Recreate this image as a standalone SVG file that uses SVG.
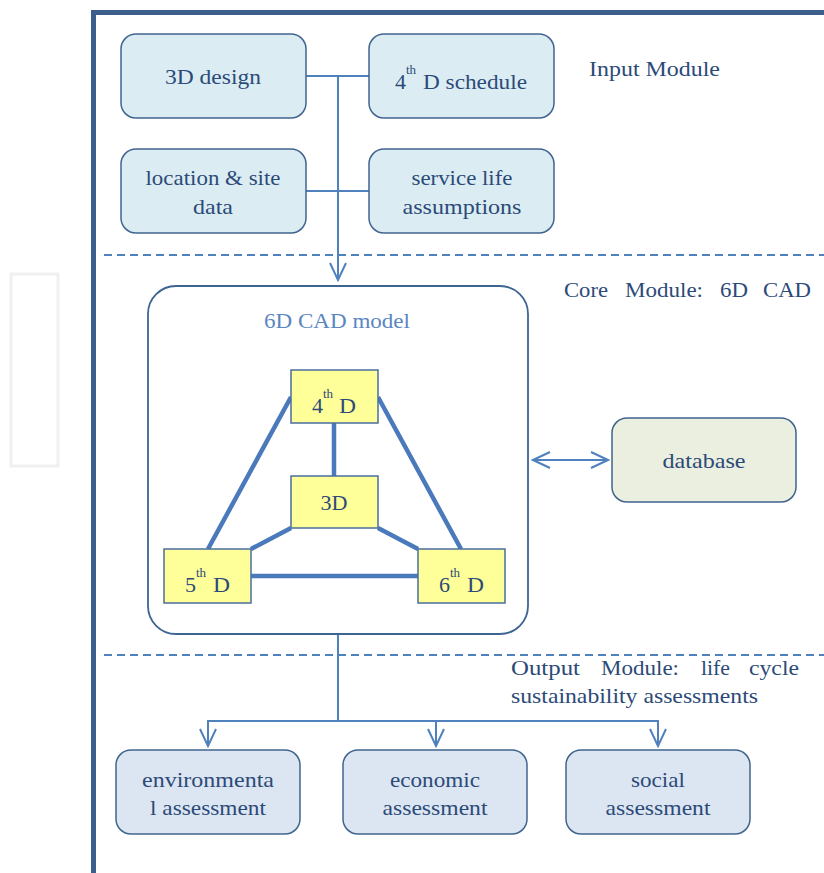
<svg xmlns="http://www.w3.org/2000/svg" width="824" height="873" viewBox="0 0 824 873">
<style>
  text { font-family: "Liberation Serif", "Times New Roman", serif; fill: #2c4a78; font-size: 22px; }
  .c { text-anchor: middle; }
  .sup { font-size: 13px; }
  .inbox { fill: #dbedf3; stroke: #41648f; stroke-width: 1.5; }
  .outbox { fill: #dce6f2; stroke: #41648f; stroke-width: 1.5; }
  .ybox { fill: #ffff99; stroke: #4a6e9e; stroke-width: 1.5; }
  .conn { fill: none; stroke: #4f81bd; stroke-width: 2; }
  .tri { fill: none; stroke: #4a7abb; stroke-width: 4.5; }
  .dash { fill: none; stroke: #4f81bd; stroke-width: 1.8; stroke-dasharray: 8 5; }
</style>
<defs>
  <marker id="arr" viewBox="0 0 20 20" refX="18" refY="10" markerWidth="20" markerHeight="20" markerUnits="userSpaceOnUse" orient="auto-start-reverse">
    <path d="M1,2 L18,10 L1,18" fill="none" stroke="#4f81bd" stroke-width="2"/>
  </marker>
</defs>
<rect width="824" height="873" fill="#ffffff"/>
<rect x="11" y="274" width="47" height="192" fill="none" stroke="#f0f0f0" stroke-width="3"/>
<g id="frame">
  <path d="M93.5,873 V12.5 H824" fill="none" stroke="#3b5e8c" stroke-width="5"/>
  <line x1="104" y1="255" x2="824" y2="255" class="dash"/>
  <line x1="104" y1="655" x2="824" y2="655" class="dash"/>
</g>
<g id="labels">
  <text x="589" y="76" textLength="131" lengthAdjust="spacingAndGlyphs">Input Module</text>
  <text x="564" y="297" textLength="44" lengthAdjust="spacingAndGlyphs">Core</text>
  <text x="625" y="297" textLength="78" lengthAdjust="spacingAndGlyphs">Module:</text>
  <text x="720" y="297" textLength="28" lengthAdjust="spacingAndGlyphs">6D</text>
  <text x="763" y="297" textLength="48" lengthAdjust="spacingAndGlyphs">CAD</text>
  <text x="511" y="675" textLength="69" lengthAdjust="spacingAndGlyphs">Output</text>
  <text x="601" y="675" textLength="78" lengthAdjust="spacingAndGlyphs">Module:</text>
  <text x="701" y="675" textLength="29" lengthAdjust="spacingAndGlyphs">life</text>
  <text x="749" y="675" textLength="50" lengthAdjust="spacingAndGlyphs">cycle</text>
  <text x="511" y="703" textLength="247" lengthAdjust="spacingAndGlyphs">sustainability assessments</text>
</g>
<g id="connectors">
  <path class="conn" d="M306,76 H369 M306,191 H369"/>
  <path class="conn" d="M338,76 V280" marker-end="url(#arr)"/>
  <path class="conn" d="M338,634 V721 M208,721 H658"/>
  <path class="conn" d="M208,720 V746" marker-end="url(#arr)"/>
  <path class="conn" d="M436,720 V746" marker-end="url(#arr)"/>
  <path class="conn" d="M658,720 V746" marker-end="url(#arr)"/>
  <path class="conn" d="M533,460 H608" marker-start="url(#arr)" marker-end="url(#arr)"/>
  <path class="tri" d="M334,423 V476 M291,397 L208,549 M378,397 L461,549 M291,528 L251,549 M378,528 L418,549 M251,576 H418"/>
</g>
<g id="n-3d-design">
  <rect class="inbox" x="121" y="34" width="185" height="84" rx="15"/>
  <text class="c" x="213" y="84" textLength="96" lengthAdjust="spacingAndGlyphs">3D design</text>
</g>
<g id="n-4d-schedule">
  <rect class="inbox" x="369" y="34" width="185" height="84" rx="15"/>
  <text x="395" y="89" textLength="11" lengthAdjust="spacingAndGlyphs">4</text>
  <text class="sup" x="406" y="74">th</text>
  <text x="423" y="89" textLength="104" lengthAdjust="spacingAndGlyphs">D schedule</text>
</g>
<g id="n-location">
  <rect class="inbox" x="121" y="149" width="185" height="84" rx="15"/>
  <text class="c" x="213" y="185" textLength="135" lengthAdjust="spacingAndGlyphs">location &amp; site</text>
  <text class="c" x="213" y="214" textLength="40" lengthAdjust="spacingAndGlyphs">data</text>
</g>
<g id="n-service">
  <rect class="inbox" x="369" y="149" width="185" height="84" rx="15"/>
  <text class="c" x="462" y="185" textLength="101" lengthAdjust="spacingAndGlyphs">service life</text>
  <text class="c" x="462" y="214" textLength="119" lengthAdjust="spacingAndGlyphs">assumptions</text>
</g>
<g id="n-core">
  <rect x="148" y="286" width="380" height="348" rx="28" fill="none" stroke="#3e6491" stroke-width="1.8"/>
  <text class="c" x="337" y="328" textLength="146" lengthAdjust="spacingAndGlyphs" style="fill:#5b86c0">6D CAD model</text>
</g>
<g id="n-4d">
  <rect class="ybox" x="291" y="370" width="87" height="53"/>
  <text x="312" y="413" textLength="11" lengthAdjust="spacingAndGlyphs">4</text>
  <text class="sup" x="323" y="398">th</text>
  <text x="339" y="413" textLength="17" lengthAdjust="spacingAndGlyphs">D</text>
</g>
<g id="n-3d">
  <rect class="ybox" x="291" y="476" width="87" height="52"/>
  <text class="c" x="334" y="510" textLength="27" lengthAdjust="spacingAndGlyphs">3D</text>
</g>
<g id="n-5d">
  <rect class="ybox" x="164" y="549" width="87" height="54"/>
  <text x="185" y="592" textLength="11" lengthAdjust="spacingAndGlyphs">5</text>
  <text class="sup" x="196" y="577">th</text>
  <text x="213" y="592" textLength="17" lengthAdjust="spacingAndGlyphs">D</text>
</g>
<g id="n-6d">
  <rect class="ybox" x="418" y="549" width="87" height="54"/>
  <text x="439" y="592" textLength="11" lengthAdjust="spacingAndGlyphs">6</text>
  <text class="sup" x="450" y="577">th</text>
  <text x="467" y="592" textLength="17" lengthAdjust="spacingAndGlyphs">D</text>
</g>
<g id="n-database">
  <rect x="612" y="418" width="184" height="84" rx="15" fill="#ebefdf" stroke="#41648f" stroke-width="1.5"/>
  <text class="c" x="704" y="468" textLength="83" lengthAdjust="spacingAndGlyphs">database</text>
</g>
<g id="n-environmental">
  <rect class="outbox" x="116" y="750" width="184" height="84" rx="15"/>
  <text class="c" x="208" y="787" textLength="132" lengthAdjust="spacingAndGlyphs">environmenta</text>
  <text class="c" x="208" y="815" textLength="116" lengthAdjust="spacingAndGlyphs">l assessment</text>
</g>
<g id="n-economic">
  <rect class="outbox" x="343" y="750" width="184" height="84" rx="15"/>
  <text class="c" x="435" y="787" textLength="90" lengthAdjust="spacingAndGlyphs">economic</text>
  <text class="c" x="435" y="815" textLength="105" lengthAdjust="spacingAndGlyphs">assessment</text>
</g>
<g id="n-social">
  <rect class="outbox" x="566" y="750" width="184" height="84" rx="15"/>
  <text class="c" x="658" y="787" textLength="54" lengthAdjust="spacingAndGlyphs">social</text>
  <text class="c" x="658" y="815" textLength="105" lengthAdjust="spacingAndGlyphs">assessment</text>
</g>
</svg>
